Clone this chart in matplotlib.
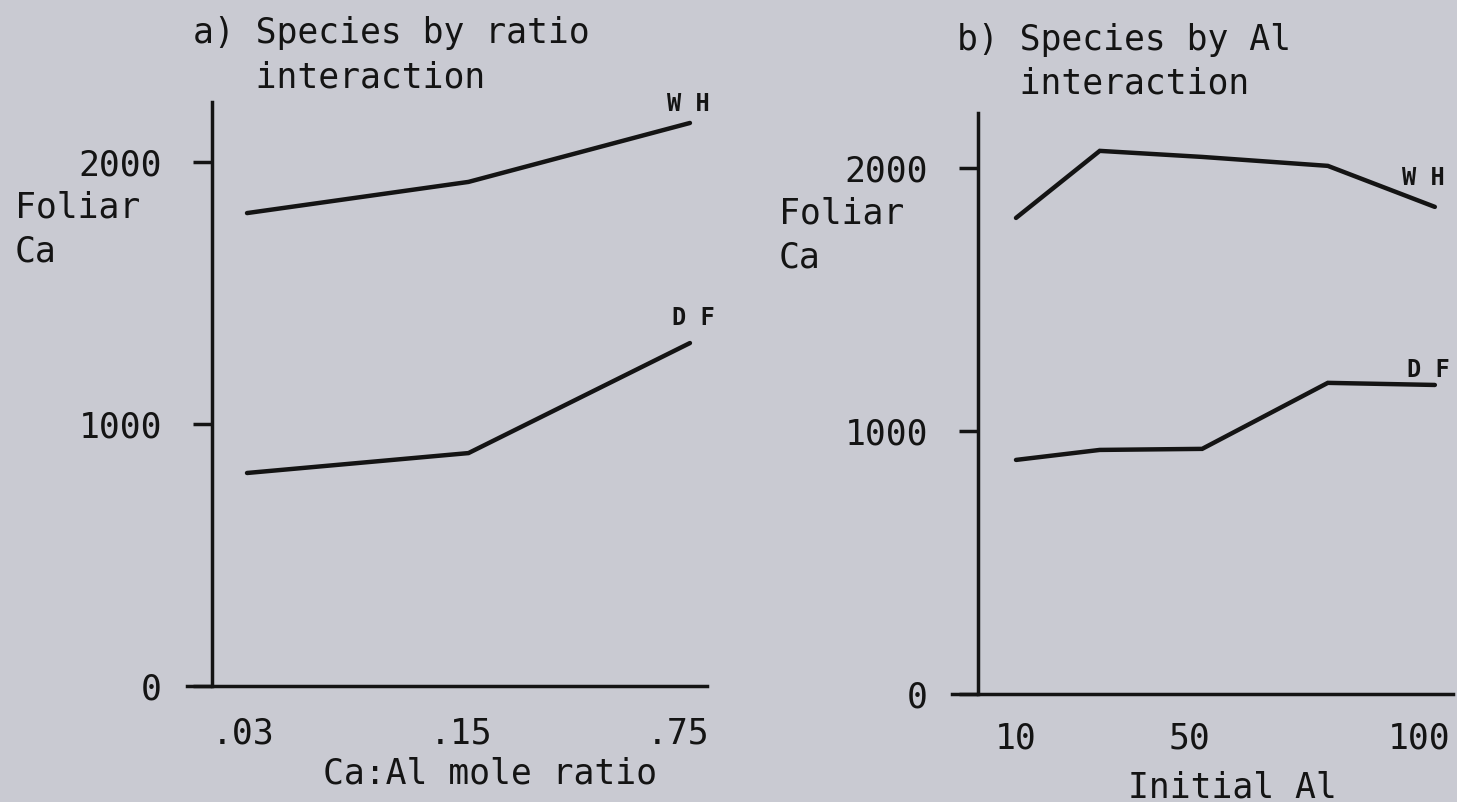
import matplotlib
matplotlib.use("Agg")
import matplotlib.pyplot as plt
from matplotlib.transforms import ScaledTranslation

# ---- data ----
ratio_labels = [".03", ".15", ".75"]
ratio_pos = [0, 1, 2]
wh_by_ratio = [1805, 1924, 2149]
df_by_ratio = [813, 889, 1309]

al_levels = [10, 28, 50, 77, 100]
al_ticks = [10, 50, 100]
wh_by_al = [1810, 2065, 2042, 2008, 1852]
df_by_al = [890, 928, 932, 1183, 1175]

y_ticks = [0, 1000, 2000]

W, H = 1457, 802
BG = "#c9cad2"
INK = "#141414"
FONT = "DejaVu Sans Mono"
FS = 25


def px_box(l, t, r, b):
    return [l / W, 1 - b / H, (r - l) / W, (b - t) / H]


def fig_text(fig, x, y, s, **kw):
    kw.setdefault("family", FONT)
    kw.setdefault("fontsize", FS)
    kw.setdefault("color", INK)
    fig.text(x / W, 1 - y / H, s, **kw)


def style_axes(ax, xlim, ylim, spine_x, xpad):
    ax.set_facecolor("none")
    ax.set_xlim(*xlim)
    ax.set_ylim(*ylim)
    for side in ["top", "right"]:
        ax.spines[side].set_visible(False)
    ax.spines["left"].set_position(("data", spine_x))
    for side in ["left", "bottom"]:
        ax.spines[side].set_linewidth(2.5)
        ax.spines[side].set_color(INK)
    ax.set_yticks(y_ticks)
    ax.tick_params(axis="y", direction="out", length=14, width=2.5, pad=22,
                   colors=INK, labelsize=FS)
    ax.tick_params(axis="x", length=0, pad=xpad, colors=INK, labelsize=FS)
    for lab in ax.get_xticklabels() + ax.get_yticklabels():
        lab.set_family(FONT)


def nudge_xlabels(fig, ax, shifts):
    # the typed labels sit a little left of their columns in the original
    for lab, dx in zip(ax.get_xticklabels(), shifts):
        lab.set_transform(lab.get_transform() + ScaledTranslation(dx / 100, 0, fig.dpi_scale_trans))


def series_label(ax, x, y, text, dx, dy):
    ax.annotate(text, (x, y), xytext=(dx, dy), textcoords="offset pixels",
                ha="center", va="center", family=FONT, fontsize=17,
                fontweight="bold", color=INK, annotation_clip=False)


fig = plt.figure(figsize=(W / 100, H / 100), dpi=100)
fig.patch.set_facecolor(BG)

# a) species by ratio
ax1 = fig.add_axes(px_box(187, 102, 707, 686))
ax1.plot(ratio_pos, wh_by_ratio, color=INK, lw=3.2, solid_capstyle="round", solid_joinstyle="miter")
ax1.plot(ratio_pos, df_by_ratio, color=INK, lw=3.2, solid_capstyle="round", solid_joinstyle="miter")
ax1.set_xticks(ratio_pos)
ax1.set_xticklabels(ratio_labels)
style_axes(ax1, (-0.271, 2.077), (0, 2229), -0.158, 22)
nudge_xlabels(fig, ax1, [-4, -7, -12])
series_label(ax1, ratio_pos[-1], wh_by_ratio[-1], "W H", -2, 19)
series_label(ax1, ratio_pos[-1], df_by_ratio[-1], "D F", 3, 25)

# b) species by Al
ax2 = fig.add_axes(px_box(952, 113, 1453, 694))
ax2.plot(al_levels, wh_by_al, color=INK, lw=3.2, solid_capstyle="round", solid_joinstyle="miter")
ax2.plot(al_levels, df_by_al, color=INK, lw=3.2, solid_capstyle="round", solid_joinstyle="miter")
ax2.set_xticks(al_ticks)
style_axes(ax2, (-3.75, 103.9), (0, 2209), 1.84, 20)
nudge_xlabels(fig, ax2, [0, -13, -16])
series_label(ax2, al_levels[-1], wh_by_al[-1], "W H", -11, 29)
series_label(ax2, al_levels[-1], df_by_al[-1], "D F", -6, 15)

# titles and axis words
fig_text(fig, 193, 43, "a) Species by ratio", va="baseline")
fig_text(fig, 193, 87, "   interaction", va="baseline")
fig_text(fig, 957, 50, "b) Species by Al", va="baseline")
fig_text(fig, 957, 93, "   interaction", va="baseline")

fig_text(fig, 15, 217, "Foliar", va="baseline")
fig_text(fig, 15, 262, "Ca", va="baseline")
fig_text(fig, 779, 223, "Foliar", va="baseline")
fig_text(fig, 779, 267, "Ca", va="baseline")

fig_text(fig, 490, 783, "Ca:Al mole ratio", ha="center", va="baseline")
fig_text(fig, 1232, 797, "Initial Al", ha="center", va="baseline")

fig.savefig("out.png", dpi=100, facecolor=fig.get_facecolor())
plt.close(fig)
